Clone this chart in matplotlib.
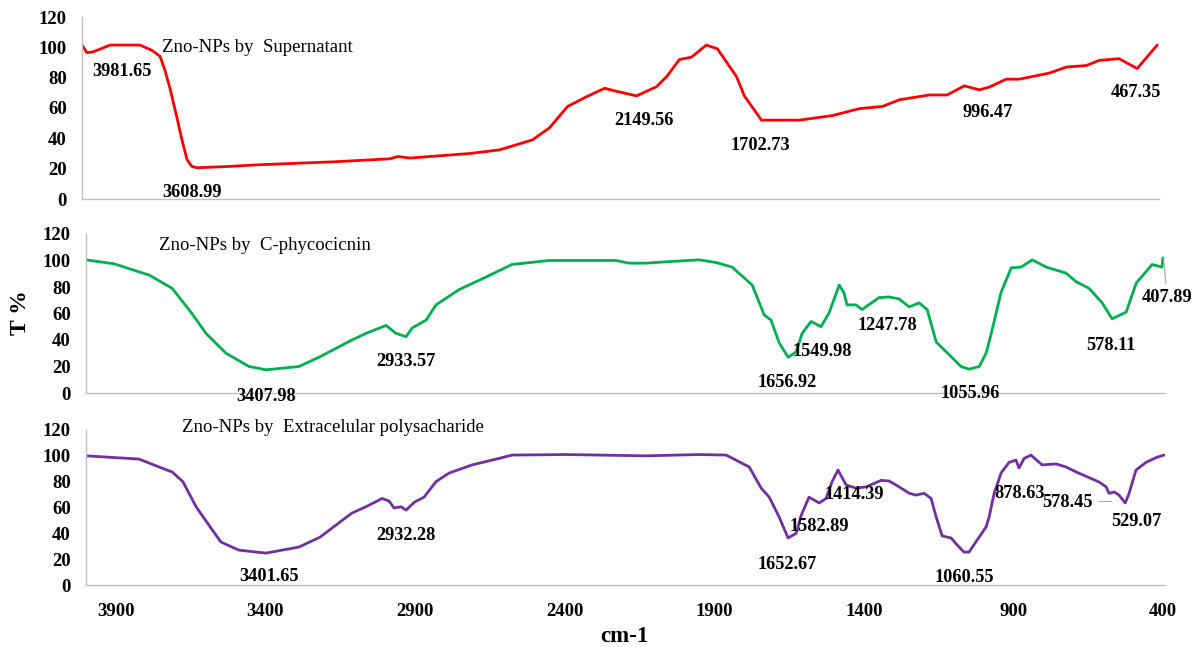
import matplotlib
matplotlib.use('Agg')
import matplotlib.pyplot as plt

plt.rcParams['font.family'] = ['Liberation Serif', 'DejaVu Serif']

# Wavenumber (cm-1) and transmittance (%)
sup_wn = [4000, 3984, 3963, 3906, 3806, 3766, 3739, 3723, 3706, 3683, 3666, 3649, 3633,
          3616, 3506, 3405, 3162, 2971, 2945, 2904, 2704, 2604, 2494, 2437, 2377, 2313,
          2253, 2213, 2146, 2080, 2046, 2003, 1963, 1913, 1876, 1812, 1786, 1729, 1602,
          1492, 1401, 1325, 1268, 1168, 1108, 1051, 1001, 967, 911, 867, 767, 710, 643,
          600, 533, 473, 406]
sup_t = [101.5, 96.5, 97, 101.5, 101.5, 98, 94, 85, 73, 54, 39, 26, 21.5,
         20.6, 21.5, 22.6, 24.5, 26.5, 28, 27, 30, 32.4, 39, 47, 61, 67.5,
         73, 71, 68, 74, 80.6, 92, 93.5, 101.5, 99, 80.6, 68, 52, 52,
         55, 59.6, 61, 65.4, 68.6, 68.6, 74.6, 72, 73.8, 79, 79, 83, 87, 88,
         91.4, 92.5, 86, 101.5]

cpc_wn = [4000, 3906, 3789, 3712, 3646, 3599, 3532, 3455, 3398, 3288, 3221, 3111, 3064,
          2997, 2964, 2930, 2910, 2863, 2830, 2753, 2663, 2576, 2452, 2228, 2185, 2128,
          2061, 1951, 1894, 1840, 1773, 1733, 1710, 1683, 1653, 1626, 1606, 1576, 1543,
          1516, 1482, 1466, 1456, 1426, 1406, 1349, 1315, 1282, 1248, 1215, 1188, 1158,
          1115, 1075, 1048, 1014, 991, 971, 941, 907, 874, 837, 790, 724, 690, 647,
          603, 570, 523, 489, 436, 403, 400]
cpc_t = [100.5, 97.5, 89, 79, 60, 45, 30, 20, 17.5, 20, 27, 40, 45,
         51, 45, 42.5, 49, 55, 66.5, 78, 87.5, 97, 100, 100, 98, 98,
         99, 100.5, 98.5, 95, 81.5, 59, 55, 38, 27, 31, 45, 54, 50,
         60.5, 81.5, 75.5, 66.5, 66.5, 63, 72, 72.5, 71, 65, 68, 63, 38.5,
         29, 20, 18, 20, 30, 47.5, 76, 94.5, 95, 100.5, 95, 90.5, 84, 79,
         68, 56, 61, 83, 97, 95, 102]

eps_wn = [4000, 3823, 3756, 3712, 3676, 3632, 3585, 3549, 3489, 3398, 3288, 3218, 3178,
          3111, 3064, 3010, 2987, 2970, 2947, 2930, 2903, 2870, 2830, 2786, 2709, 2619,
          2576, 2395, 2128, 1951, 1860, 1783, 1743, 1716, 1683, 1653, 1626, 1609, 1583,
          1549, 1526, 1506, 1486, 1459, 1426, 1392, 1342, 1315, 1282, 1248, 1225, 1198,
          1175, 1158, 1138, 1108, 1088, 1065, 1048, 1021, 991, 981, 964, 941, 914, 891,
          881, 864, 841, 804, 757, 724, 690, 613, 590, 580, 563, 547, 526, 513, 490,
          456, 419, 396]
eps_t = [100, 97.5, 91.4, 87.5, 80, 60.6, 45, 33.3, 27, 24.7, 29.4, 37, 44,
         55.7, 60.6, 67, 65, 59.6, 60.6, 58, 64, 68, 80, 86.7, 93, 98,
         100.6, 101, 100, 101, 100.6, 91.4, 75, 68, 52.7, 36.4, 40, 54, 68,
         63.5, 67, 80, 89, 77.4, 75, 76, 81, 80.5, 76, 71, 69.6, 71,
         67, 52.7, 38, 36.4, 31, 25.5, 25.5, 34.8, 45, 52.7, 71, 86.7, 95, 96.7,
         90.6, 98, 100.6, 93, 93.7, 91.4, 87.5, 79.7, 76, 71, 72, 69.7, 63.5, 71, 89,
         95, 99, 100.6]

sup_title = 'Zno-NPs by  Supernatant'
cpc_title = 'Zno-NPs by  C-phycocicnin'
eps_title = 'Zno-NPs by  Extracelular polysacharide'

sup_peaks = ['3981.65', '3608.99', '2149.56', '1702.73', '996.47', '467.35']
cpc_peaks = ['3407.98', '2933.57', '1656.92', '1549.98', '1247.78', '1055.96', '578.11', '407.89']
eps_peaks = ['3401.65', '2932.28', '1652.67', '1582.89', '1414.39', '1060.55', '878.63', '578.45', '529.07']

xticks = [3900, 3400, 2900, 2400, 1900, 1400, 900, 400]
yticks = [0, 20, 40, 60, 80, 100, 120]

# label placement (data coords) for each panel
sup_pos = [(3866, 84), (3633, 4), (2123, 52), (1732, 35), (971, 57), (476, 70)]
cpc_pos = [(3398, -2.3), (2930, 23.4), (1656, 7.6), (1539, 31), (1322, 50.6),
           (1044, 0), (573, 35.5), (470, 72)]
eps_pos = [(3388, 6.2), (2930, 38), (1656, 16), (1549, 45), (1432, 70),
           (1065, 6), (878, 71), (720, 63.5), (490, 49.5)]

W, H = 1197, 647
fig = plt.figure(figsize=(W / 100, H / 100), dpi=100)


def make_axes(x0, x1, y_top, y_zero):
    return fig.add_axes([x0 / W, 1 - y_zero / H, (x1 - x0) / W, (y_zero - y_top) / H])


ax1 = make_axes(82, 1159, 17, 199)
ax2 = make_axes(86, 1165, 234, 393)
ax3 = make_axes(86, 1165, 430, 585)

panels = [
    (ax1, sup_wn, sup_t, '#ff0000', sup_title, (3733, 100), sup_peaks, sup_pos, (4000, 400)),
    (ax2, cpc_wn, cpc_t, '#00b050', cpc_title, (3756, 111), cpc_peaks, cpc_pos, (4000, 393)),
    (ax3, eps_wn, eps_t, '#7030a0', eps_title, (3679, 122), eps_peaks, eps_pos, (4000, 393)),
]

for ax, wn, t, color, title, tpos, peaks, pos, xl in panels:
    ax.plot(wn, t, color=color, lw=2.0, solid_joinstyle='round', solid_capstyle='round')
    ax.set_xlim(*xl)
    ax.set_ylim(0, 120)
    ax.set_yticks(yticks)
    for s in ['top', 'right']:
        ax.spines[s].set_visible(False)
    for s in ['left', 'bottom']:
        ax.spines[s].set_color('#bfbfbf')
        ax.spines[s].set_linewidth(1.0)
    ax.tick_params(axis='both', length=0, labelsize=13.5, pad=11)
    for lab in ax.get_yticklabels():
        lab.set_fontweight('bold')
    ax.set_xticks(xticks)
    ax.text(tpos[0], tpos[1], title, fontsize=13.5, ha='left', va='center', clip_on=False)
    for txt, (x, y) in zip(peaks, pos):
        ha = 'left' if txt == '407.89' else 'center'
        ax.text(x, y, txt, fontsize=13.2, fontweight='bold', ha=ha, va='center', clip_on=False)

ax1.tick_params(axis='x', labelbottom=False)
ax2.tick_params(axis='x', labelbottom=False)
for lab in ax3.get_xticklabels():
    lab.set_fontweight('bold')
ax3.tick_params(axis='x', pad=13)

# small leader lines next to two labels
ax2.plot([398, 390], [102, 83], color='#a6a6a6', lw=0.8, clip_on=False)
ax3.plot([613, 573], [65, 65], color='#a6a6a6', lw=0.8, clip_on=False)

fig.text(21 / W, 1 - 313 / H, 'T %', rotation=90, fontsize=17, fontweight='bold',
         ha='center', va='center')
fig.text(624 / W, 1 - 636 / H, 'cm-1', fontsize=16.5, fontweight='bold',
         ha='center', va='center')

fig.savefig('out.png', dpi=100)
